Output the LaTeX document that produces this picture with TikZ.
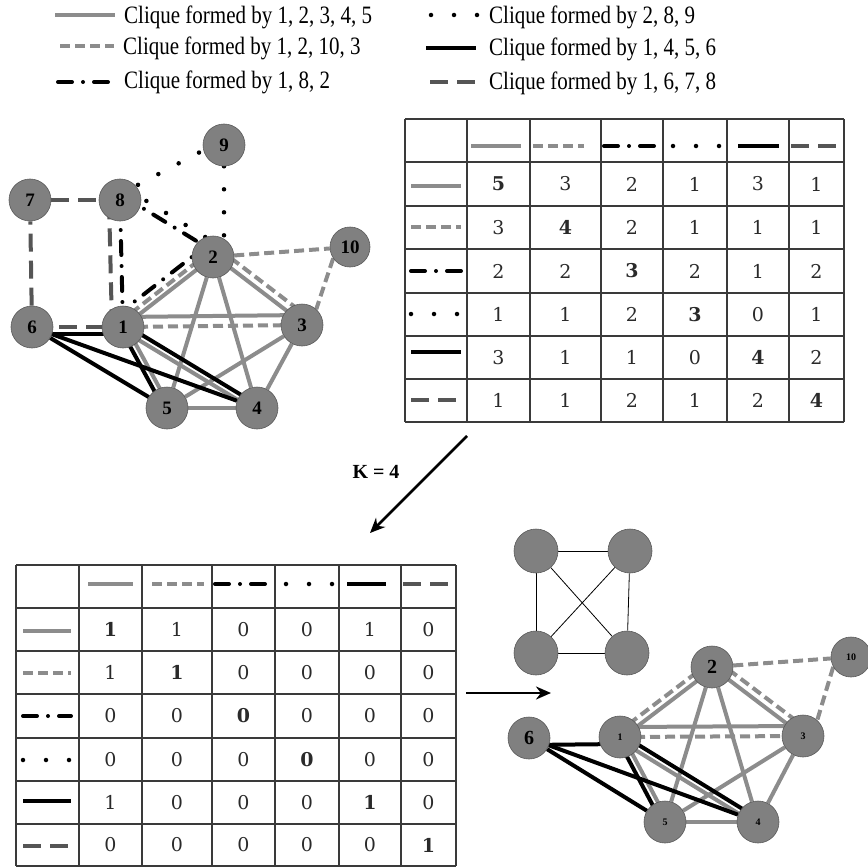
\documentclass[tikz,border=0pt]{standalone}
\usepackage{fontspec}
\setmainfont{Liberation Serif}
\newfontfamily\tabfont{DejaVu Serif}
\usetikzlibrary{calc,arrows.meta,backgrounds}

\definecolor{edgegray}{HTML}{8C8C8C}
\definecolor{nodegray}{HTML}{808080}
\definecolor{dashgray}{HTML}{555555}
\definecolor{ruleline}{HTML}{3A3A3A}
\definecolor{digit}{HTML}{2A2A2A}

% edge between two vertices, pushed sideways by #4
\newcommand\cedge[4][]{\draw[#1] ($(#2.center)!#4!90:(#3.center)$) -- ($(#3.center)!#4!-90:(#2.center)$);}
% narrow legend text
\newcommand\legline[1]{\scalebox{0.84}[1]{#1}}

\tikzset{
  vtx/.style={circle, fill=nodegray, draw=nodegray!70!black, line width=0.6pt,
    minimum size=42pt, inner sep=0pt, font=\fontsize{19}{19}\selectfont\bfseries},
  small/.style={minimum size=44pt},
  cla/.style={draw=edgegray, line width=4pt},
  clb/.style={draw=edgegray, line width=4pt, dash pattern=on 10pt off 5pt},
  clc/.style={draw=black, line width=4pt, line cap=round, dash pattern=on 14pt off 11pt on 0pt off 11pt},
  cld/.style={draw=black, line width=4.5pt, line cap=round, dash pattern=on 0pt off 23pt},
  cle/.style={draw=black, line width=4pt},
  clf/.style={draw=dashgray, line width=4pt, dash pattern=on 18pt off 9pt},
  tabline/.style={draw=ruleline, line width=1.4pt},
  cell/.style={inner sep=0pt, text=digit, font=\tabfont\fontsize{19}{19}\selectfont},
  legtext/.style={anchor=west, inner sep=0pt, font=\fontsize{25}{25}\selectfont},
  thin/.style={draw=black, line width=0.8pt},
  bigarrow/.style={draw=black, line width=2.6pt, -{Stealth[length=15pt,width=13pt]}}
}

\begin{document}
\begin{tikzpicture}[x=1pt, y=-1pt]
  \useasboundingbox (0,0) rectangle (868,867);

  % Legend
  \draw[cla] (55,15) -- (115,15);
  \draw[clb] (60,46) -- (114,46);
  \draw[clc] (58,82) -- (113,82);
  \draw[cld] (431,15) -- (478,15);
  \draw[cle] (426,48) -- (476,48);
  \draw[clf] (430,82) -- (478,82);
  \node[legtext] (lega) at (124,17) {\legline{Clique formed by 1, 2, 3, 4, 5}};
  \node[legtext] (legb) at (123,48) {\legline{Clique formed by 1, 2, 10, 3}};
  \node[legtext] (legc) at (124,82) {\legline{Clique formed by 1, 8, 2}};
  \node[legtext] (legd) at (489,17) {\legline{Clique formed by 2, 8, 9}};
  \node[legtext] (lege) at (489,49) {\legline{Clique formed by 1, 4, 5, 6}};
  \node[legtext] (legf) at (489,83) {\legline{Clique formed by 1, 6, 7, 8}};

  % Original graph
  \node[vtx] (t1)  at (123,327) {1};
  \node[vtx] (t2)  at (213,257) {2};
  \node[vtx] (t3)  at (302,325) {3};
  \node[vtx] (t4)  at (257,408) {4};
  \node[vtx] (t5)  at (167,408) {5};
  \node[vtx] (t6)  at (32,327)  {6};
  \node[vtx] (t7)  at (30,200)  {7};
  \node[vtx] (t8)  at (120,200) {8};
  \node[vtx] (t9)  at (224,145) {9};
  \node[vtx, minimum size=40pt] (t10) at (350,247) {10};

  \begin{scope}[on background layer]
    % 1,2,3,4,5
    \cedge[cla]{t1}{t2}{0pt}
    \cedge[cla]{t1}{t3}{10pt}
    \cedge[cla]{t1}{t4}{-3pt}
    \cedge[cla]{t1}{t5}{3pt}
    \cedge[cla]{t2}{t3}{2pt}
    \draw[cla] (t2) -- (t4);
    \draw[cla] (t2) -- (t5);
    \draw[cla] (t3) -- (t4);
    \draw[cla] (t3) -- (t5);
    \draw[cla] (t4) -- (t5);
    % 1,2,10,3
    \cedge[clb]{t1}{t2}{6pt}
    \cedge[clb]{t1}{t3}{0pt}
    \cedge[clb]{t2}{t3}{10pt}
    \draw[clb] (t2) -- (t10);
    \draw[clb] (t10.214) -- (t3.48);
    % 1,8,2
    \cedge[clc]{t1}{t2}{13pt}
    \cedge[clc]{t1}{t8}{0pt}
    \cedge[clc]{t8}{t2}{5pt}
    % 2,8,9
    \cedge[cld]{t8}{t2}{13pt}
    \cedge[cld]{t8}{t9}{5pt}
    \draw[cld] (t9) -- (t9 |- t2.north);
    % 1,4,5,6
    \cedge[cle]{t6}{t1}{-7pt}
    \cedge[cle]{t1}{t4}{3pt}
    \cedge[cle]{t1}{t5}{-3pt}
    \draw[cle] (t6) -- (t4);
    \draw[cle] (t6) -- (t5);
    % 1,6,7,8
    \cedge[clf]{t6}{t1}{0pt}
    \cedge[clf]{t1}{t8}{11pt}
    \draw[clf] (t6) -- (t7);
    \draw[clf] (t7) -- (t8);
  \end{scope}

  % Overlap table
  \foreach \x in {405,467,530,601,663,727,789,844}
    \draw[tabline] (\x,119) -- (\x,422);
  \foreach \y in {119,162,206,249,293,336,379,422}
    \draw[tabline] (405,\y) -- (844,\y);
  \foreach \s/\xa/\xb in {cla/471/521, clb/533/584, clc/604/660, cld/673/723, cle/738/779, clf/791/837}
    \draw[\s] (\xa,146) -- (\xb,146);
  \foreach \s/\y in {cla/186, clb/227, clc/271, cld/314, cle/352, clf/400}
    \draw[\s] (411,\y) -- (461,\y);
  \foreach \vals [count=\i] in {{5,3,2,1,3,1},{3,4,2,1,1,1},{2,2,3,2,1,2},{1,1,2,3,0,1},{3,1,1,0,4,2},{1,1,2,1,2,4}}
    \foreach \v [count=\j] in \vals {
      \pgfmathsetmacro\cx{{498.5,565.5,632,695,758,816.5}[\j-1]}
      \pgfmathsetmacro\cy{{184,227.5,271,314.5,357.5,400.5}[\i-1]}
      \node[cell] (ov-\i-\j) at (\cx,\cy) {\ifnum\i=\j\bfseries\fi\v};
    }

  % Thresholding step
  \coordinate (kfrom) at (467,436);
  \coordinate (kto) at (370,533);
  \draw[bigarrow] (kfrom) -- (kto);
  \node[font=\fontsize{20}{20}\selectfont\bfseries] (klabel) at (376,472) {K = 4};

  % Thresholded table
  \foreach \x in {16,79,142,212,275,339,401,456}
    \draw[tabline] (\x,565) -- (\x,866);
  \foreach \y in {565,608,651,694,738,781,824,866}
    \draw[tabline] (16,\y) -- (456,\y);
  \foreach \s/\xa/\xb in {cla/88/133, clb/152/204, clc/215/271, cld/286/334, cle/347/386, clf/403/448}
    \draw[\s] (\xa,584) -- (\xb,584);
  \foreach \s/\y in {cla/631, clb/673, clc/716, cld/760, cle/801, clf/846}
    \draw[\s] (23,\y) -- (71,\y);
  \foreach \vals [count=\i] in {{1,1,0,0,1,0},{1,1,0,0,0,0},{0,0,0,0,0,0},{0,0,0,0,0,0},{1,0,0,0,1,0},{0,0,0,0,0,1}}
    \foreach \v [count=\j] in \vals {
      \pgfmathsetmacro\cx{{110.5,177,243.5,307,370,428.5}[\j-1]}
      \pgfmathsetmacro\cy{{629.5,672.5,716,759.5,802.5,845}[\i-1]}
      \node[cell] (th-\i-\j) at (\cx,\cy) {\ifnum\i=\j\bfseries\fi\v};
    }

  \coordinate (rfrom) at (466,693);
  \coordinate (rto) at (551,693);
  \draw[bigarrow] (rfrom) -- (rto);

  % K4 pattern
  \node[vtx, small] (q1) at (536,551) {};
  \node[vtx, small] (q2) at (630,551) {};
  \node[vtx, small] (q3) at (536,653) {};
  \node[vtx, small] (q4) at (627,653) {};
  \begin{scope}[on background layer]
    \draw[thin] (q1) -- (q2);
    \draw[thin] (q1) -- (q3);
    \draw[thin] (q1) -- (q4);
    \draw[thin] (q2) -- (q3);
    \draw[thin] (q2) -- (q4);
    \draw[thin] (q3) -- (q4);
  \end{scope}

  % Merged community
  \node[vtx, font=\fontsize{10}{10}\selectfont\bfseries] (b1) at (620,737) {1};
  \node[vtx, font=\fontsize{20}{20}\selectfont\bfseries] (b2) at (712,667) {2};
  \node[vtx, font=\fontsize{10}{10}\selectfont\bfseries] (b3) at (803,736) {3};
  \node[vtx, font=\fontsize{10}{10}\selectfont\bfseries] (b4) at (758,822) {4};
  \node[vtx, font=\fontsize{10}{10}\selectfont\bfseries] (b5) at (665,822) {5};
  \node[vtx, font=\fontsize{20}{20}\selectfont\bfseries] (b6) at (529,738) {6};
  \node[vtx, minimum size=40pt, font=\fontsize{10}{10}\selectfont\bfseries] (b10) at (851,657) {10};

  \begin{scope}[on background layer]
    \cedge[cla]{b1}{b2}{-2pt}
    \cedge[cla]{b1}{b3}{10pt}
    \cedge[cla]{b1}{b4}{-3pt}
    \cedge[cla]{b1}{b5}{3pt}
    \cedge[cla]{b2}{b3}{0pt}
    \draw[cla] (b2) -- (b4);
    \draw[cla] (b2) -- (b5);
    \draw[cla] (b3) -- (b4);
    \draw[cla] (b3) -- (b5);
    \draw[cla] (b4) -- (b5);
    \cedge[clb]{b1}{b2}{5pt}
    \cedge[clb]{b1}{b3}{0pt}
    \cedge[clb]{b2}{b3}{8pt}
    \draw[clb] (b2) -- (b10);
    \draw[clb] (b10.209) -- (b3.48);
    \cedge[cle]{b6}{b1}{-7pt}
    \cedge[cle]{b1}{b4}{3pt}
    \cedge[cle]{b1}{b5}{-3pt}
    \draw[cle] (b6) -- (b4);
    \draw[cle] (b6) -- (b5);
  \end{scope}
\end{tikzpicture}
\end{document}
